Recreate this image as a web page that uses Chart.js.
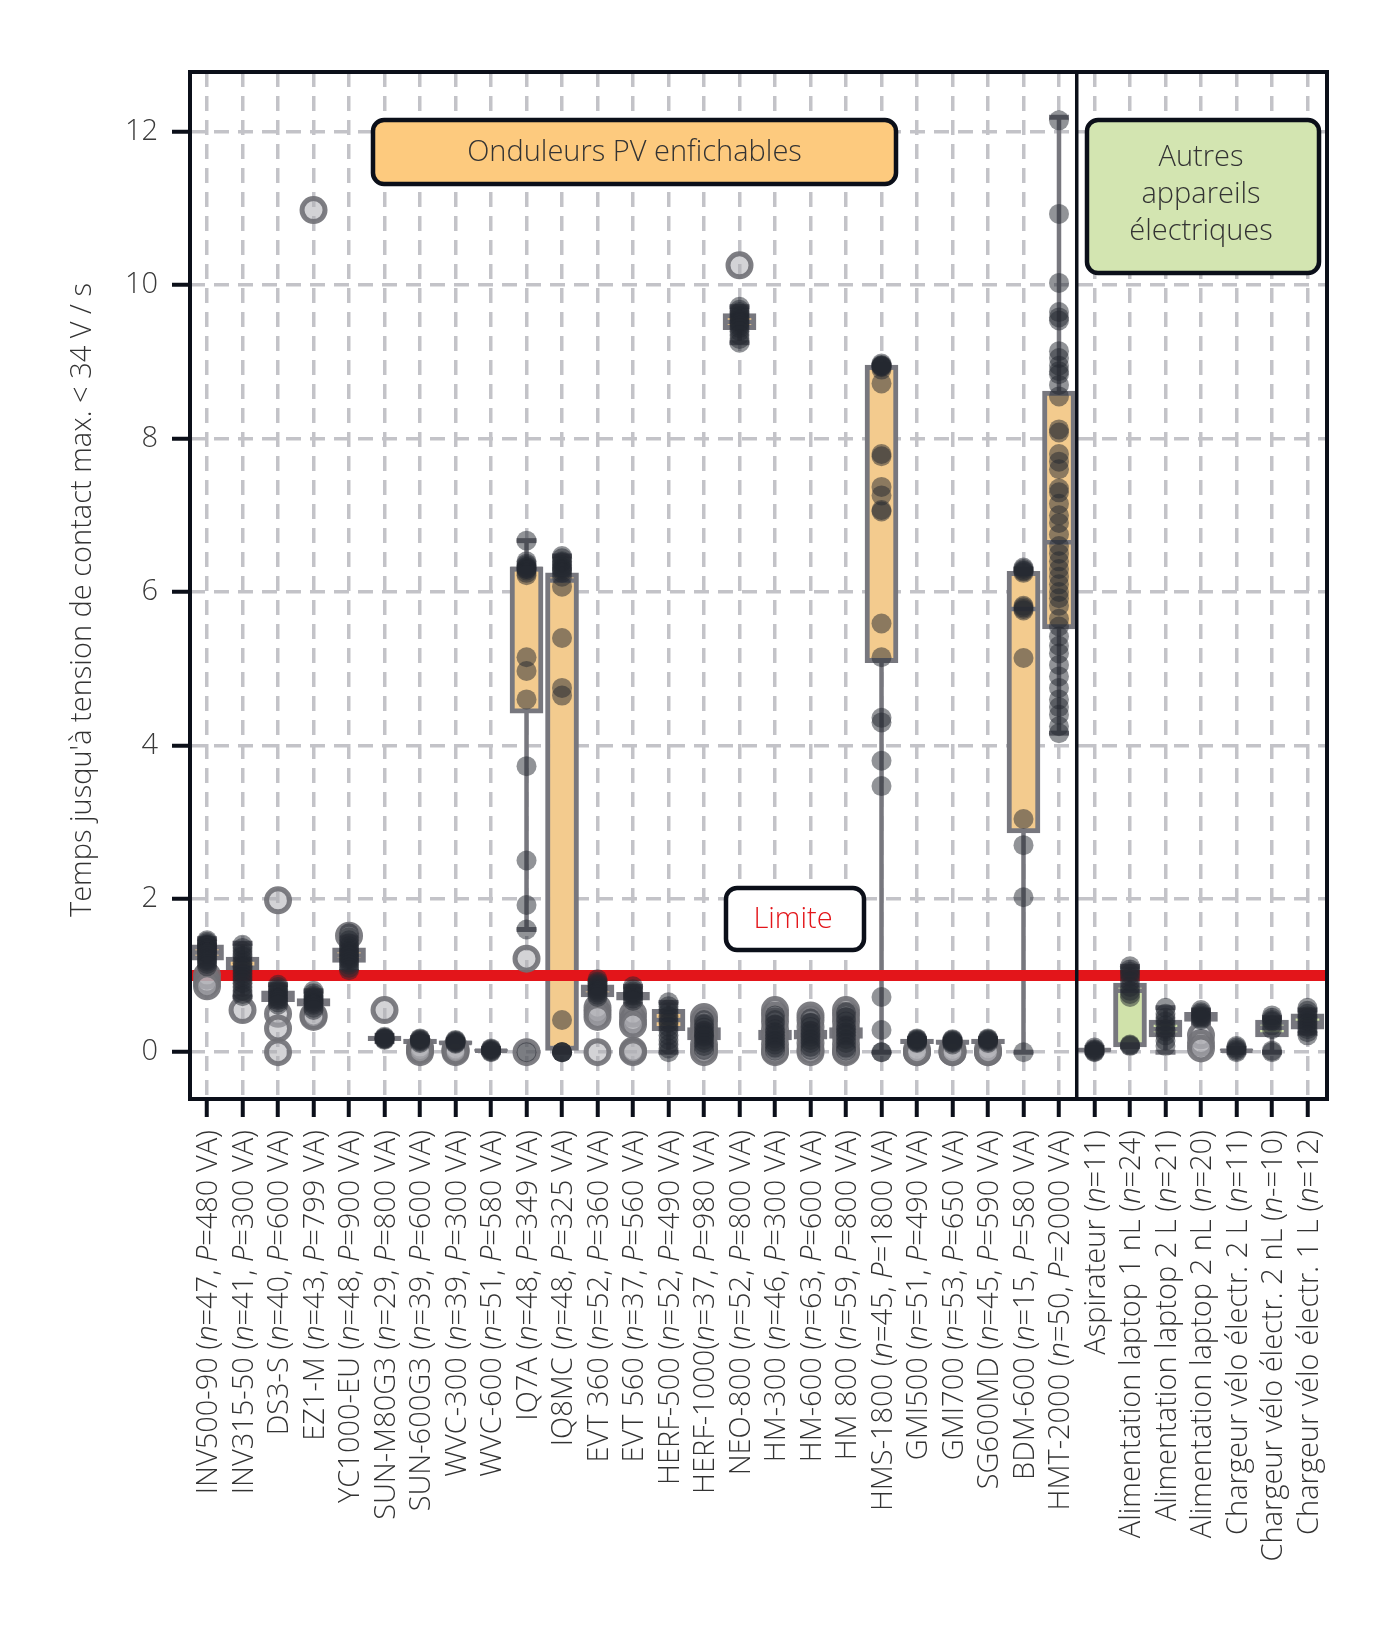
<!DOCTYPE html>
<html><head><meta charset="utf-8">
<script src="https://cdn.jsdelivr.net/npm/chart.js@4.4.1/dist/chart.umd.min.js"></script>
<style>html,body{margin:0;padding:0;background:#fff;}canvas{display:block;}</style>
</head><body>
<canvas id="c" width="1400" height="1631"></canvas>
<script>
// ---------------- DATA ----------------
const categories = [
  'INV500-90 (n=47, P=480 VA)', 'INV315-50 (n=41, P=300 VA)', 'DS3-S (n=40, P=600 VA)',
  'EZ1-M (n=43, P=799 VA)', 'YC1000-EU (n=48, P=900 VA)', 'SUN-M80G3 (n=29, P=800 VA)',
  'SUN-600G3 (n=39, P=600 VA)', 'WVC-300 (n=39, P=300 VA)', 'WVC-600 (n=51, P=580 VA)',
  'IQ7A (n=48, P=349 VA)', 'IQ8MC (n=48, P=325 VA)', 'EVT 360 (n=52, P=360 VA)',
  'EVT 560 (n=37, P=560 VA)', 'HERF-500 (n=52, P=490 VA)', 'HERF-1000(n=37, P=980 VA)',
  'NEO-800 (n=52, P=800 VA)', 'HM-300 (n=46, P=300 VA)', 'HM-600 (n=63, P=600 VA)',
  'HM 800 (n=59, P=800 VA)', 'HMS-1800 (n=45, P=1800 VA)', 'GMI500 (n=51, P=490 VA)',
  'GMI700 (n=53, P=650 VA)', 'SG600MD (n=45, P=590 VA)', 'BDM-600 (n=15, P=580 VA)',
  'HMT-2000 (n=50, P=2000 VA)',
  'Aspirateur (n=11)', 'Alimentation laptop 1 nL (n=24)', 'Alimentation laptop 2 L (n=21)',
  'Alimentation laptop 2 nL (n=20)', 'Chargeur vélo électr. 2 L (n=11)',
  'Chargeur vélo électr. 2 nL (n-=10)', 'Chargeur vélo électr. 1 L (n=12)'
];
const pvCount = 25;           // first 25 categories are plug-in PV inverters
const limitValue = 1.0;       // "Limite"

const boxQ1  = [1.20,0.95,0.66,0.60,1.17,0.15,0.11,0.10,0.01,4.42,0.00,0.72,0.68,0.28,0.16,9.42,0.16,0.17,0.18,5.08,0.11,0.10,0.11,2.86,5.52, 0.01,0.07,0.20,0.40,0.00,0.20,0.30];
const boxMed = [1.30,1.10,0.72,0.66,1.26,0.18,0.14,0.12,0.02,6.30,6.15,0.82,0.74,0.42,0.24,9.52,0.22,0.23,0.25,8.93,0.14,0.13,0.14,5.78,6.65, 0.03,0.80,0.30,0.45,0.02,0.32,0.38];
const boxQ3  = [1.40,1.24,0.80,0.70,1.36,0.21,0.17,0.15,0.04,6.33,6.25,0.88,0.78,0.56,0.32,9.63,0.29,0.29,0.32,8.96,0.17,0.16,0.17,6.27,8.62, 0.05,0.90,0.42,0.52,0.04,0.42,0.50];
const whiskLo = [1.10,0.72,0.60,0.52,1.05,0.14,0.09,0.08,0.00,1.60,0.00,0.60,0.62,0.00,0.05,9.25,0.02,0.02,0.00,0.00,0.10,0.08,0.10,0.00,4.16, 0.00,0.07,0.00,0.38,0.00,0.00,0.25];
const whiskHi = [1.48,1.42,0.88,0.80,1.50,0.22,0.19,0.16,0.05,6.67,6.47,0.95,0.86,0.65,0.40,9.72,0.45,0.42,0.50,8.96,0.18,0.17,0.18,6.30,12.19,0.06,1.12,0.58,0.55,0.05,0.45,0.55];

const points = [
  [1.46,1.44,1.42,1.40,1.40,1.38,1.36,1.35,1.33,1.30,1.30,1.28,1.25,1.22,1.20,1.18,1.15,1.12],
  [1.40,1.36,1.32,1.28,1.25,1.20,1.16,1.12,1.10,1.06,1.02,0.98,0.94,0.90,0.85,0.80,0.76,0.73],
  [0.88,0.85,0.82,0.80,0.78,0.75,0.72,0.70,0.68,0.65,0.62],
  [0.80,0.77,0.74,0.72,0.70,0.68,0.66,0.64,0.62,0.58,0.55],
  [1.55,1.50,1.46,1.42,1.38,1.35,1.32,1.30,1.27,1.25,1.22,1.20,1.17,1.14,1.10,1.07],
  [0.20,0.19,0.18,0.18,0.17,0.16],
  [0.18,0.17,0.16,0.15,0.14,0.12],
  [0.16,0.15,0.14,0.13,0.12,0.11],
  [0.05,0.04,0.03,0.02,0.01,0.00],
  [6.67,6.40,6.37,6.35,6.33,6.32,6.30,6.30,6.28,6.25,6.22,5.15,4.97,4.60,3.73,2.50,1.92,1.60,0.00],
  [6.47,6.44,6.40,6.38,6.35,6.32,6.30,6.28,6.25,6.20,6.07,5.40,4.75,4.65,0.42,0.00,0.00,0.00,0.00],
  [0.95,0.92,0.90,0.88,0.86,0.84,0.82,0.80,0.78,0.75,0.72],
  [0.86,0.82,0.79,0.77,0.75,0.73,0.70,0.67],
  [0.65,0.60,0.56,0.52,0.47,0.42,0.38,0.33,0.28,0.22,0.16,0.10,0.05,0.00],
  [0.42,0.36,0.32,0.28,0.25,0.22,0.20,0.16,0.12,0.08,0.03],
  [9.72,9.68,9.65,9.63,9.60,9.58,9.55,9.52,9.50,9.47,9.44,9.40,9.35,9.30,9.25],
  [0.48,0.42,0.36,0.30,0.26,0.22,0.18,0.14,0.10,0.06,0.02],
  [0.44,0.38,0.33,0.28,0.24,0.20,0.16,0.12,0.07,0.03],
  [0.52,0.46,0.40,0.34,0.30,0.26,0.22,0.17,0.12,0.06,0.02],
  [8.98,8.96,8.95,8.95,8.94,8.93,8.90,8.72,7.80,7.77,7.37,7.26,7.07,7.05,5.59,5.15,4.36,4.30,3.80,3.47,0.72,0.29,0.00,0.00],
  [0.18,0.17,0.16,0.15,0.14,0.13,0.12],
  [0.17,0.16,0.15,0.14,0.13,0.12,0.10],
  [0.18,0.17,0.16,0.15,0.14,0.12],
  [6.32,6.30,6.28,6.27,6.25,5.82,5.80,5.78,5.76,5.14,3.04,2.70,2.02,0.00],
  [12.15,10.93,10.03,9.65,9.58,9.54,9.14,9.05,8.95,8.88,8.84,8.70,8.55,8.12,8.08,7.80,7.70,7.60,7.35,7.30,7.15,7.00,6.90,6.75,6.60,6.50,6.40,6.30,6.20,6.10,6.00,5.92,5.82,5.65,5.55,5.42,5.30,5.20,5.05,4.90,4.75,4.60,4.50,4.40,4.25,4.16],
  [0.06,0.04,0.03,0.02,0.01,0.00],
  [1.12,1.08,1.05,1.02,0.98,0.92,0.85,0.80,0.76,0.72,0.10,0.09,0.08],
  [0.58,0.50,0.45,0.40,0.35,0.30,0.27,0.22,0.15,0.08],
  [0.55,0.52,0.50,0.48,0.46,0.44,0.42],
  [0.08,0.06,0.04,0.02,0.00],
  [0.48,0.45,0.42,0.40,0.35,0.30,0.02,0.00],
  [0.58,0.54,0.50,0.47,0.44,0.40,0.37,0.33,0.30,0.26,0.22]
];
const outliers = [
  [1.00,0.92,0.86], [0.55], [1.98,0.50,0.31,0.00], [10.98,0.48,0.46], [1.52], [0.55],
  [0.06,0.03,0.00], [0.04,0.02,0.00], [], [1.22,0.00], [], [0.58,0.52,0.46,0.00],
  [0.50,0.42,0.36,0.02,0.00], [], [0.46,0.40,0.32,0.22,0.10,0.04,0.00], [10.26],
  [0.55,0.48,0.40,0.30,0.20,0.10,0.02,0.00], [0.48,0.42,0.33,0.22,0.12,0.04,0.00],
  [0.55,0.48,0.40,0.30,0.20,0.10,0.02,0.00], [], [0.03,0.00,0.00], [0.03,0.00,0.00],
  [0.04,0.00,0.00], [], [],
  [], [], [], [0.22,0.12,0.05], [], [], []
];
const yTitle = "Temps jusqu'à tension de contact max. < 34 V / s";
const groupTitles = { pv: ['Onduleurs PV enfichables'], other: ['Autres', 'appareils', 'électriques'], limit: 'Limite' };

// ---------------- STYLE ----------------
const FONT = '"Open Sans", "Noto Sans", sans-serif';
const edge = '#77777e';
const orangeBox = '#f3cb8e', greenBox = '#d0e2aa';
const ink = '#0b0f19';

// build datasets from arrays
const whiskerData = [], capData = [], medData = [], outData = [], ptData = [];
categories.forEach((c, i) => {
  whiskerData.push({x: i, y: whiskLo[i]}, {x: i, y: whiskHi[i]}, {x: i, y: null});
  capData.push({x: i, y: whiskLo[i]}, {x: i, y: whiskHi[i]});
  medData.push({x: i, y: boxMed[i]});
  outliers[i].forEach(v => outData.push({x: i, y: v}));
  points[i].forEach(v => ptData.push({x: i, y: v}));
});
const boxData = categories.map((c, i) => ({x: i, y: [boxQ1[i], boxQ3[i]]}));

function italicSegments(s) {
  const segs = [];
  let cur = '';
  for (let k = 0; k < s.length; k++) {
    const ch = s[k];
    const it = (ch === 'n' || ch === 'P') && (s[k+1] === '=' || (s[k+1] === '-' && s[k+2] === '='));
    if (it) { if (cur) segs.push({t: cur, it: false}); segs.push({t: ch, it: true}); cur = ''; }
    else cur += ch;
  }
  if (cur) segs.push({t: cur, it: false});
  return segs;
}

function roundBox(ctx, x0, y0, x1, y1, r, fill) {
  ctx.beginPath();
  ctx.roundRect(x0, y0, x1 - x0, y1 - y0, r);
  ctx.fillStyle = fill; ctx.fill();
  ctx.lineWidth = 4.5; ctx.strokeStyle = ink; ctx.stroke();
}

const overlay = {
  id: 'overlay',
  afterDatasetsDraw(chart) {
    const {ctx, chartArea: a, scales: {x, y}} = chart;
    ctx.save();
    // divider between groups
    const dx = x.getPixelForValue(pvCount - 0.5);
    ctx.strokeStyle = ink; ctx.lineWidth = 3.5;
    ctx.beginPath(); ctx.moveTo(dx, a.top); ctx.lineTo(dx, a.bottom); ctx.stroke();
    // frame
    ctx.lineWidth = 4;
    ctx.strokeRect(a.left, a.top, a.right - a.left, a.bottom - a.top);

    // annotation boxes
    ctx.textAlign = 'center'; ctx.textBaseline = 'middle';
    roundBox(ctx, 373, 120, 896, 184, 11, '#fdca7e');
    ctx.fillStyle = '#333'; ctx.font = '300 29px ' + FONT;
    ctx.fillText(groupTitles.pv[0], 634.5, 153);
    roundBox(ctx, 1087, 120, 1319, 273, 11, '#d3e5b1');
    ctx.fillStyle = '#333';
    groupTitles.other.forEach((t, k) => ctx.fillText(t, 1201, 158 + k * 37));
    roundBox(ctx, 726, 888, 864, 950, 11, '#ffffff');
    ctx.fillStyle = '#e3151a';
    ctx.fillText(groupTitles.limit, 793, 920);

    // x labels (rotated, with italic n and P)
    const fN = '300 29px ' + FONT, fI = 'italic 300 29px ' + FONT;
    categories.forEach((lab, i) => {
      const px = x.getPixelForValue(i);
      const segs = italicSegments(lab);
      let total = 0;
      segs.forEach(s => { ctx.font = s.it ? fI : fN; s.w = ctx.measureText(s.t).width; total += s.w; });
      ctx.save();
      ctx.translate(px + 2, a.bottom + 31);
      ctx.rotate(-Math.PI / 2);
      ctx.textAlign = 'left'; ctx.textBaseline = 'middle'; ctx.fillStyle = '#333';
      let cx = -total;
      segs.forEach(s => { ctx.font = s.it ? fI : fN; ctx.fillText(s.t, cx, 0); cx += s.w; });
      ctx.restore();
    });

    // y title
    ctx.save();
    ctx.translate(83, 600);
    ctx.rotate(-Math.PI / 2);
    ctx.textAlign = 'center'; ctx.textBaseline = 'middle';
    ctx.fillStyle = '#333'; ctx.font = '300 29px ' + FONT;
    ctx.fillText(yTitle, 0, 0);
    ctx.restore();
    ctx.restore();
  }
};

const gridCommon = {color: '#c3c3c8', lineWidth: 3.5, tickLength: 18, tickWidth: 4, tickColor: ink, tickBorderDash: [], offset: false};

new Chart(document.getElementById('c'), {
  type: 'scatter',
  data: {
    datasets: [
      {type: 'line', label: 'whiskers', data: whiskerData, borderColor: edge, borderWidth: 4.5, pointRadius: 0, spanGaps: false, order: 6},
      {type: 'bar', label: 'boxes', data: boxData, backgroundColor: categories.map((c, i) => i < pvCount ? orangeBox : greenBox),
        borderColor: edge, borderWidth: 5, borderSkipped: false, barThickness: 33, grouped: false, order: 5},
      {type: 'scatter', label: 'caps', data: capData, pointStyle: 'line', pointRadius: 10, borderColor: edge, borderWidth: 5, order: 4},
      {type: 'scatter', label: 'medians', data: medData, pointStyle: 'line', pointRadius: 16, borderColor: edge, borderWidth: 4.5, order: 4},
      {type: 'line', label: 'limite', data: [{x: -1, y: limitValue}, {x: 33, y: limitValue}], borderColor: '#e3151a', borderWidth: 11, pointRadius: 0, clip: 0, order: 3},
      {type: 'scatter', label: 'outliers', data: outData, pointRadius: 11.5, borderWidth: 5, borderColor: 'rgba(112,112,118,0.9)', backgroundColor: 'rgba(175,175,180,0.55)', order: 2},
      {type: 'scatter', label: 'points', data: ptData, pointRadius: 10, borderWidth: 0, backgroundColor: 'rgba(36,39,48,0.5)', order: 1}
    ]
  },
  options: {
    responsive: false, animation: false, devicePixelRatio: 1,
    layout: {padding: {top: 72, right: 73, left: 0, bottom: 0}},
    plugins: {legend: {display: false}, tooltip: {enabled: false}},
    scales: {
      x: {type: 'linear', min: -0.48, max: 31.55, offset: false,
        afterFit: s => { s.height = 532; },
        ticks: {display: false, stepSize: 1, autoSkip: false, includeBounds: false, maxTicksLimit: 100},
        grid: gridCommon, border: {display: false, dash: [15, 9]}},
      y: {type: 'linear', min: -0.61, max: 12.78,
        afterFit: s => { s.width = 190; },
        ticks: {stepSize: 2, includeBounds: false, padding: 14, color: '#3a3a3a', font: {family: FONT, size: 29, weight: 300}},
        grid: gridCommon, border: {display: false, dash: [15, 9]}}
    }
  },
  plugins: [overlay]
});
</script>
</body></html>
